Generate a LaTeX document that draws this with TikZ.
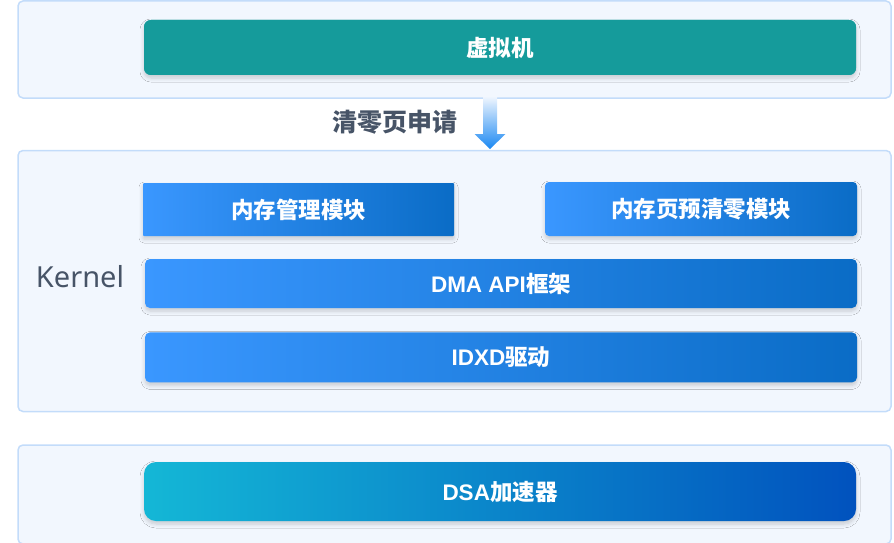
\documentclass[tikz,border=0pt]{standalone}
\usepackage{fontspec}
\setmainfont{Noto Sans CJK SC}
\newfontfamily\lat{Noto Sans}
\newfontfamily\latb{Liberation Sans}
\usepackage{xcolor}
\usepackage{tikz}
\usetikzlibrary{positioning}
\usetikzlibrary{calc}
\usetikzlibrary{shadows.blur}
\definecolor{boxfill}{HTML}{F2F7FE}
\definecolor{boxline}{HTML}{C3DCFA}
\definecolor{vmteal}{HTML}{159B9B}
\definecolor{blueA}{HTML}{3A97FF}
\definecolor{blueB}{HTML}{0A6CC6}
\definecolor{dsaA}{HTML}{14B7D6}
\definecolor{dsaB}{HTML}{0152BE}
\definecolor{txtgray}{HTML}{475467}
\definecolor{arrA}{HTML}{EEF5FE}
\definecolor{arrB}{HTML}{1A88F2}
\tikzset{soft/.style={blur shadow={shadow xshift=0pt, shadow yshift=-3pt, shadow blur radius=4pt, shadow blur steps=6, shadow opacity=18}}}

\begin{document}
\begin{tikzpicture}
[
x=1pt, y=-1pt,
c/.style={rectangle, draw=boxline, fill=boxfill, line width=1.5pt, rounded corners=5pt, minimum width=873pt},
b/.style={rectangle, rounded corners=5pt, text=white, font=\bfseries\fontsize{22.5}{27}\selectfont, left color=blueA, right color=blueB, minimum width=712pt, soft}
]
\useasboundingbox (0,0) rectangle (894,543);

\node[c, minimum height=97pt] (c1) at (454.5,49.5) {};
\node[c, minimum height=261pt, below=51pt of c1] (c2) {};
\node[c, minimum height=99pt, below=32pt of c2] (c3) {};

\node[b, fill=vmteal, left color=vmteal, right color=vmteal, minimum height=55pt, rounded corners=7pt] (vm) at (500,47.5) {虚拟机};

\node[b, minimum width=311pt, minimum height=53pt, rounded corners=1pt] (mm) at (298.5,209.5) {内存管理模块};
\node[b, minimum width=312pt, minimum height=54pt, rounded corners=4pt] (pz) at (701,209) {内存页预清零模块};
\node[b, minimum height=49pt] (dma) at (501,283.5) {{\latb DMA API}框架};
\node[b, minimum height=50pt, below=24pt of dma.south, anchor=north] (idxd) {{\latb IDXD}驱动};
\node[b, left color=dsaA, right color=dsaB, minimum height=59pt, rounded corners=12pt] (dsa) at (500,491.5) {{\latb DSA}加速器};

\node[text=txtgray, font=\lat\fontsize{29}{34}\selectfont] (kl) at (80,277) {Kernel};
\node[text=txtgray, font=\bfseries\fontsize{25}{30}\selectfont] (req) at (394.5,122.5) {清零页申请};

% request arrow
\coordinate (at) at (490,97);
\coordinate (ab) at (490,149);
\shade[top color=arrA, bottom color=arrB] ($(at)+(-7,0)$) -- ($(at)+(7,0)$) -- ($(ab)+(7,-15)$) -- ($(ab)+(15.5,-15)$) -- (ab) -- ($(ab)+(-15.5,-15)$) -- ($(ab)+(-7,-15)$) -- cycle;
\end{tikzpicture}
\end{document}
